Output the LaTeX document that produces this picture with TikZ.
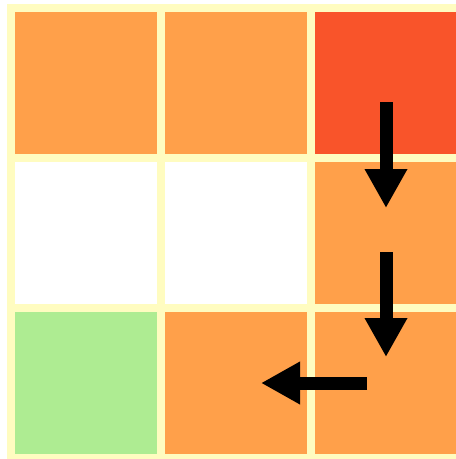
\documentclass[tikz,border=0pt]{standalone}
\usepackage{tikz}
\usetikzlibrary{arrows.meta}
\definecolor{gridline}{RGB}{255,252,192}
\definecolor{warm}{RGB}{255,160,74}
\definecolor{hot}{RGB}{249,84,42}
\definecolor{goal}{RGB}{174,236,146}

\begin{document}
\begin{tikzpicture}[x=1pt, y=-1pt,
      cell/.style={draw=none, inner sep=0pt, minimum size=142pt},
      move/.style={line width=13pt, -{Triangle[width=40pt, length=39pt]}}]
    \useasboundingbox (0,0) rectangle (456,459);
    \fill[gridline] (7,4) rectangle (456,459);
    % cells of the grid
    \node[cell, fill=warm] (r1c1) at (86,83) {};
    \node[cell, fill=warm] (r1c2) at (236,83) {};
    \node[cell, fill=hot] (r1c3) at (386,83) {};
    \node[cell, fill=white] (r2c1) at (86,233) {};
    \node[cell, fill=white] (r2c2) at (236,233) {};
    \node[cell, fill=warm] (r2c3) at (386,233) {};
    \node[cell, fill=goal] (r3c1) at (86,383) {};
    \node[cell, fill=warm] (r3c2) at (236,383) {};
    \node[cell, fill=warm] (r3c3) at (386,383) {};
    % path
    \coordinate (s1) at (386,102);
    \coordinate (e1) at (386,208);
    \coordinate (s2) at (386,252);
    \coordinate (e2) at (386,357);
    \coordinate (s3) at (367,383);
    \coordinate (e3) at (261,383);
    \draw[move] (s1) -- (e1);
    \draw[move] (s2) -- (e2);
    \draw[move] (s3) -- (e3);
\end{tikzpicture}
\end{document}
